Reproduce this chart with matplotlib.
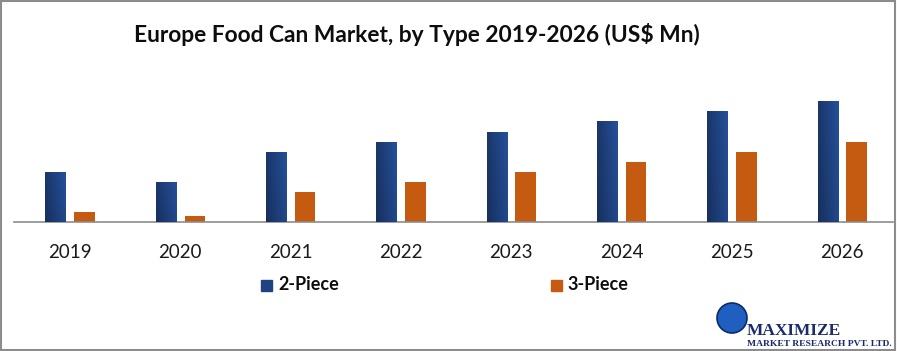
import numpy as np
import matplotlib.pyplot as plt
from matplotlib.patches import Rectangle, Ellipse
from matplotlib.colors import LinearSegmentedColormap

years = ['2019', '2020', '2021', '2022', '2023', '2024', '2025', '2026']
two_piece = [50, 40, 70, 80, 90, 101, 111, 121]
three_piece = [10, 6, 30, 40, 50, 60, 70, 80]

plt.rcParams['font.family'] = ['Lato', 'DejaVu Sans']

fig = plt.figure(figsize=(8.97, 3.51), dpi=100)
ax = fig.add_axes([14 / 897, 1 - 222 / 351, 879 / 897, 132 / 351])

x = np.arange(len(years))
w = 0.186
off = 0.131

# 2-Piece bars with a dark-to-light gradient
bars = ax.bar(x - off, two_piece, w, color='#1F4283', zorder=2)
grad = np.linspace(0, 1, 64).reshape(1, -1)
grad = grad + np.linspace(0, 0.6, 64).reshape(-1, 1)[::-1] * 0.5
cmap = LinearSegmentedColormap.from_list('blu', ['#172F5C', '#25509A'])
for b in bars:
    x0, y0 = b.get_x(), b.get_y()
    im = ax.imshow(grad, cmap=cmap, aspect='auto', origin='upper',
                   extent=[x0, x0 + b.get_width(), y0, y0 + b.get_height()],
                   zorder=3)
    im.set_clip_path(b)

ax.bar(x + off, three_piece, w, color='#C55A11', zorder=2)

ax.set_xlim(-0.508, 7.46)
ax.set_ylim(0, 132)
ax.set_xticks(x)
ax.set_xticklabels(years, fontsize=13.5, color='#1a1a1a')
ax.tick_params(axis='x', length=0, pad=16)
ax.set_yticks([])
for s in ['top', 'right', 'left']:
    ax.spines[s].set_visible(False)
ax.spines['bottom'].set_color('#8c8c8c')
ax.spines['bottom'].set_linewidth(1.2)

fig.text(417 / 897, 1 - 34 / 351, 'Europe Food Can Market, by Type 2019-2026 (US$ Mn)',
         ha='center', va='center', fontsize=16.4, fontweight='bold', color='#0d0d0d')

# legend
fig.patches.append(Rectangle((261 / 897, 1 - 291 / 351), 11 / 897, 11 / 351,
                             transform=fig.transFigure, color='#1F4283'))
fig.text(278 / 897, 1 - 285 / 351, '2-Piece', ha='left', va='center',
         fontsize=13, fontweight='bold', color='#0d0d0d')
fig.patches.append(Rectangle((551 / 897, 1 - 291 / 351), 11 / 897, 11 / 351,
                             transform=fig.transFigure, color='#C55A11'))
fig.text(567 / 897, 1 - 285 / 351, '3-Piece', ha='left', va='center',
         fontsize=13, fontweight='bold', color='#0d0d0d')

# logo
fig.patches.append(Ellipse((732 / 897, 1 - 318 / 351), 30 / 897, 30 / 351,
                           transform=fig.transFigure, facecolor='#1f5fbf',
                           edgecolor='#0d2a6b', linewidth=1.2, zorder=5))
fig.text(747 / 897, 1 - 331 / 351, 'MAXIMIZE', ha='left', va='center',
         fontsize=12.5, fontweight='bold', family='Liberation Serif', color='#1a2a6c')
fig.text(747 / 897, 1 - 343.5 / 351, 'MARKET RESEARCH PVT. LTD.', ha='left', va='center',
         fontsize=6.8, fontweight='bold', family='Liberation Serif', color='#1a2a6c')

# frame
fig.patches.append(Rectangle((0.001, 0.002), 0.997, 0.995, transform=fig.transFigure,
                             fill=False, edgecolor='#8c8c8c', linewidth=1.5))

fig.savefig('out.png', dpi=100)
